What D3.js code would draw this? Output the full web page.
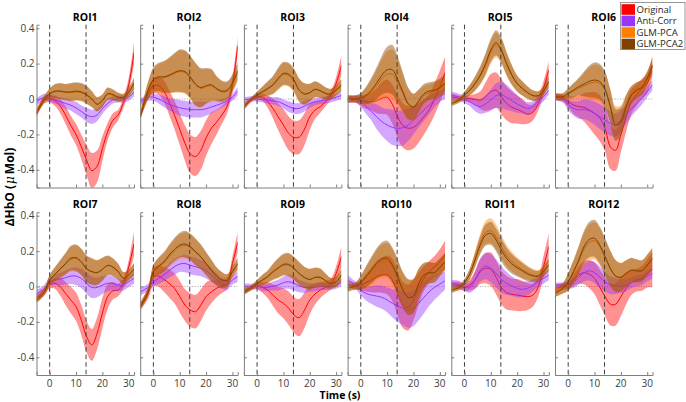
<!DOCTYPE html>
<html><head><meta charset="utf-8">
<script src="https://cdn.jsdelivr.net/npm/d3@7"></script>
<style>body{margin:0;background:#fff}svg{display:block;font-family:"Open Sans",sans-serif}</style>
</head><body><svg id="c" width="686" height="402"></svg>
<script>
const T = [-5,-2,0,2,4,6,8,10,12,14,16,18,20,22,24,26,28,30,32];
const categories = ["ROI1","ROI2","ROI3","ROI4","ROI5","ROI6","ROI7","ROI8","ROI9","ROI10","ROI11","ROI12"];
const seriesNames = ["Original","Anti-Corr","GLM-PCA","GLM-PCA2"];
const xTicks = [0,10,20,30];
const yTicks = [-0.4,-0.2,0,0.2,0.4];
const yTickLabels = ["-0.4","-0.2","0","0.2","0.4"];
const stimLines = [0,13.8];

const originalMean = [
[-0.08,-0.005,0.0,-0.01,-0.04,-0.09,-0.15,-0.2,-0.27,-0.345,-0.405,-0.38,-0.28,-0.185,-0.12,-0.09,-0.02,0.08,0.26],
[-0.1,0.03,0.075,0.075,0.045,-0.02,-0.09,-0.17,-0.25,-0.31,-0.325,-0.29,-0.22,-0.165,-0.13,-0.09,-0.04,0.08,0.3],
[-0.043,0.0,0.013,0.01,-0.015,-0.053,-0.1,-0.147,-0.194,-0.217,-0.215,-0.17,-0.1,-0.062,-0.043,-0.015,0.023,0.088,0.19],
[0.0,0.0,-0.01,-0.015,-0.015,-0.01,0.005,0.01,-0.03,-0.1,-0.15,-0.165,-0.16,-0.135,-0.1,-0.06,0.0,0.07,0.15],
[0.013,0.004,0.004,0.002,-0.002,-0.006,0.013,0.041,0.05,0.013,-0.025,-0.047,-0.058,-0.072,-0.085,-0.075,-0.025,0.06,0.164],
[0.013,0.004,-0.015,-0.034,-0.043,-0.047,-0.062,-0.081,-0.109,-0.166,-0.27,-0.29,-0.2,-0.1,-0.015,0.023,0.06,0.088,0.19],
[-0.067,-0.03,0.008,0.018,-0.001,-0.039,-0.076,-0.114,-0.19,-0.283,-0.33,-0.265,-0.15,-0.057,-0.024,-0.02,0.018,0.11,0.24],
[-0.114,-0.039,0.052,0.059,0.04,0.018,-0.01,-0.057,-0.105,-0.133,-0.142,-0.105,-0.057,-0.03,-0.01,0.003,0.018,0.13,0.25],
[-0.03,-0.005,0.003,-0.005,-0.02,-0.048,-0.076,-0.095,-0.123,-0.161,-0.176,-0.133,-0.076,-0.042,-0.02,-0.005,0.014,0.074,0.168],
[0.014,0.003,0.008,0.022,0.037,0.056,0.065,0.065,0.037,-0.039,-0.105,-0.118,-0.076,-0.01,0.046,0.084,0.112,0.14,0.18],
[0.008,0.005,-0.005,0.008,0.037,0.084,0.103,0.097,0.052,-0.005,-0.035,-0.044,-0.048,-0.054,-0.057,-0.048,-0.001,0.112,0.225],
[-0.01,0.0,0.008,0.037,0.065,0.078,0.07,0.046,-0.005,-0.057,-0.1,-0.1,-0.057,-0.01,0.022,0.037,0.046,0.074,0.095]
];
const originalErr = [
[0.02,0.02,0.02,0.03,0.04,0.05,0.055,0.06,0.07,0.085,0.1,0.09,0.07,0.05,0.04,0.03,0.03,0.04,0.06],
[0.02,0.03,0.04,0.05,0.06,0.07,0.08,0.09,0.1,0.11,0.11,0.11,0.1,0.09,0.07,0.05,0.04,0.04,0.05],
[0.02,0.015,0.015,0.02,0.035,0.055,0.075,0.09,0.095,0.095,0.095,0.09,0.075,0.05,0.035,0.025,0.025,0.035,0.06],
[0.02,0.02,0.03,0.04,0.05,0.07,0.09,0.1,0.11,0.12,0.125,0.125,0.12,0.11,0.1,0.09,0.09,0.09,0.09],
[0.02,0.015,0.015,0.02,0.03,0.05,0.08,0.1,0.1,0.1,0.095,0.09,0.08,0.07,0.055,0.045,0.04,0.04,0.05],
[0.02,0.02,0.03,0.05,0.06,0.08,0.1,0.12,0.13,0.13,0.125,0.115,0.1,0.085,0.07,0.06,0.055,0.055,0.06],
[0.02,0.02,0.02,0.03,0.05,0.065,0.075,0.08,0.085,0.09,0.09,0.09,0.085,0.07,0.05,0.035,0.03,0.04,0.07],
[0.02,0.03,0.05,0.06,0.07,0.08,0.085,0.09,0.09,0.095,0.095,0.09,0.08,0.065,0.05,0.04,0.035,0.04,0.06],
[0.02,0.015,0.02,0.03,0.045,0.06,0.075,0.085,0.095,0.1,0.105,0.1,0.08,0.06,0.045,0.035,0.03,0.04,0.06],
[0.02,0.02,0.03,0.05,0.07,0.09,0.1,0.11,0.12,0.125,0.13,0.13,0.115,0.09,0.07,0.06,0.06,0.07,0.08],
[0.02,0.02,0.02,0.03,0.05,0.07,0.085,0.095,0.095,0.095,0.095,0.09,0.09,0.085,0.075,0.065,0.055,0.06,0.075],
[0.02,0.02,0.02,0.035,0.05,0.065,0.08,0.09,0.1,0.11,0.12,0.12,0.11,0.09,0.07,0.065,0.07,0.08,0.1]
];
const antiMean = [
[-0.015,0.01,0.005,-0.005,-0.015,-0.025,-0.035,-0.05,-0.07,-0.09,-0.1,-0.09,-0.055,-0.025,-0.005,0.0,0.0,0.01,0.04],
[-0.02,0.01,0.01,0.0,-0.015,-0.03,-0.04,-0.05,-0.055,-0.06,-0.06,-0.06,-0.055,-0.045,-0.035,-0.025,-0.01,0.01,0.045],
[-0.005,0.0,0.0,-0.003,-0.006,-0.01,-0.015,-0.028,-0.043,-0.053,-0.053,-0.04,-0.025,-0.015,-0.01,-0.005,0.0,0.01,0.02],
[0.0,0.0,-0.015,-0.043,-0.07,-0.1,-0.128,-0.147,-0.16,-0.166,-0.162,-0.147,-0.119,-0.09,-0.062,-0.034,-0.006,0.013,0.032],
[0.023,0.01,-0.002,-0.015,-0.034,-0.043,-0.028,-0.006,0.019,0.023,0.01,-0.009,-0.028,-0.043,-0.053,-0.043,-0.011,0.013,0.05],
[0.013,0.0,-0.034,-0.053,-0.062,-0.058,-0.066,-0.081,-0.1,-0.119,-0.137,-0.147,-0.122,-0.09,-0.053,-0.025,0.004,0.041,0.079],
[-0.04,-0.01,0.027,0.037,0.042,0.05,0.059,0.059,0.046,0.018,-0.005,-0.005,0.008,0.018,0.018,0.008,0.008,0.027,0.046],
[-0.03,-0.005,0.027,0.046,0.065,0.09,0.112,0.127,0.13,0.12,0.112,0.103,0.09,0.065,0.04,0.018,0.008,0.037,0.056],
[0.003,0.0,0.003,-0.005,-0.005,0.003,0.008,0.022,0.027,0.018,0.003,-0.005,-0.005,-0.005,0.0,0.0,0.0,0.008,0.022],
[0.037,0.008,-0.02,-0.039,-0.048,-0.054,-0.061,-0.076,-0.095,-0.11,-0.123,-0.133,-0.123,-0.095,-0.061,-0.029,-0.005,0.014,0.033],
[0.018,0.012,-0.005,-0.005,0.037,0.093,0.116,0.103,0.074,0.04,0.018,0.003,-0.01,-0.016,-0.01,0.008,0.027,0.046,0.065],
[0.008,0.008,0.008,0.022,0.052,0.078,0.089,0.078,0.052,0.027,0.008,0.003,0.003,0.008,0.022,0.031,0.04,0.059,0.074]
];
const antiErr = [
[0.02,0.02,0.02,0.02,0.025,0.03,0.03,0.035,0.035,0.04,0.04,0.035,0.03,0.025,0.02,0.02,0.02,0.02,0.025],
[0.02,0.02,0.02,0.025,0.03,0.035,0.04,0.045,0.045,0.045,0.045,0.045,0.04,0.035,0.03,0.025,0.02,0.02,0.025],
[0.015,0.015,0.015,0.015,0.02,0.02,0.025,0.025,0.03,0.03,0.03,0.03,0.025,0.02,0.02,0.02,0.02,0.02,0.02],
[0.02,0.02,0.03,0.04,0.05,0.07,0.08,0.09,0.1,0.1,0.1,0.09,0.08,0.07,0.06,0.05,0.04,0.03,0.03],
[0.02,0.02,0.02,0.025,0.035,0.04,0.05,0.06,0.07,0.075,0.07,0.06,0.05,0.04,0.035,0.03,0.03,0.025,0.025],
[0.02,0.02,0.03,0.04,0.05,0.055,0.06,0.065,0.07,0.07,0.07,0.065,0.06,0.05,0.045,0.04,0.035,0.03,0.03],
[0.02,0.02,0.025,0.03,0.035,0.04,0.045,0.05,0.055,0.06,0.06,0.055,0.05,0.045,0.04,0.035,0.03,0.03,0.03],
[0.02,0.02,0.025,0.03,0.035,0.04,0.045,0.045,0.05,0.05,0.05,0.045,0.045,0.04,0.035,0.03,0.025,0.025,0.03],
[0.015,0.015,0.015,0.02,0.02,0.025,0.03,0.035,0.04,0.04,0.035,0.03,0.025,0.02,0.02,0.02,0.02,0.02,0.02],
[0.03,0.02,0.03,0.04,0.05,0.06,0.065,0.07,0.08,0.09,0.095,0.1,0.1,0.095,0.09,0.08,0.07,0.06,0.05],
[0.02,0.02,0.02,0.03,0.05,0.065,0.075,0.08,0.08,0.075,0.065,0.055,0.05,0.045,0.04,0.035,0.03,0.03,0.03],
[0.015,0.015,0.02,0.03,0.04,0.05,0.055,0.06,0.06,0.055,0.05,0.045,0.04,0.035,0.03,0.03,0.03,0.03,0.03]
];
const pcaMean = [
[-0.075,0.0,0.028,0.04,0.042,0.038,0.036,0.04,0.036,0.022,-0.002,-0.028,-0.008,0.028,0.022,0.01,0.01,0.036,0.085],
[-0.095,0.045,0.1,0.115,0.12,0.13,0.145,0.155,0.15,0.12,0.08,0.06,0.07,0.075,0.055,0.04,0.045,0.085,0.15],
[-0.04,0.0,0.02,0.038,0.056,0.076,0.11,0.138,0.135,0.103,0.05,0.03,0.037,0.053,0.045,0.03,0.027,0.048,0.078],
[0.0,0.0,0.003,0.015,0.04,0.075,0.115,0.14,0.14,0.095,0.03,-0.03,-0.045,-0.015,0.02,0.035,0.045,0.06,0.085],
[-0.022,-0.005,0.022,0.048,0.085,0.13,0.19,0.265,0.305,0.27,0.195,0.133,0.086,0.058,0.035,0.02,0.02,0.045,0.095],
[0.013,0.012,0.028,0.045,0.062,0.075,0.088,0.095,0.088,0.05,-0.04,-0.13,-0.115,-0.04,0.022,0.05,0.07,0.115,0.185],
[-0.07,-0.028,0.035,0.067,0.096,0.125,0.153,0.158,0.137,0.1,0.086,0.08,0.098,0.118,0.108,0.083,0.047,0.064,0.097],
[-0.11,-0.028,0.08,0.11,0.133,0.17,0.2,0.225,0.232,0.22,0.192,0.165,0.127,0.09,0.057,0.036,0.034,0.08,0.125],
[-0.028,-0.005,0.017,0.035,0.053,0.08,0.1,0.12,0.12,0.1,0.072,0.05,0.04,0.05,0.05,0.032,0.018,0.027,0.063],
[-0.008,0.003,0.02,0.05,0.085,0.12,0.142,0.146,0.112,0.05,-0.02,-0.058,-0.05,0.015,0.06,0.075,0.08,0.11,0.145],
[-0.02,-0.005,0.022,0.072,0.155,0.245,0.305,0.315,0.28,0.225,0.175,0.14,0.115,0.095,0.078,0.065,0.062,0.085,0.125],
[-0.038,-0.01,0.025,0.08,0.142,0.212,0.25,0.258,0.225,0.165,0.102,0.06,0.054,0.074,0.09,0.087,0.087,0.118,0.155]
];
const pcaErr = [
[0.02,0.02,0.03,0.04,0.045,0.045,0.05,0.05,0.05,0.05,0.045,0.04,0.035,0.035,0.03,0.025,0.02,0.025,0.03],
[0.02,0.05,0.07,0.08,0.09,0.1,0.11,0.12,0.12,0.12,0.12,0.11,0.1,0.09,0.07,0.06,0.05,0.05,0.05],
[0.015,0.01,0.02,0.03,0.04,0.05,0.06,0.065,0.065,0.065,0.065,0.06,0.05,0.045,0.04,0.035,0.03,0.03,0.035],
[0.02,0.02,0.03,0.05,0.07,0.09,0.11,0.13,0.14,0.13,0.11,0.09,0.075,0.065,0.055,0.05,0.05,0.05,0.05],
[0.015,0.015,0.02,0.03,0.04,0.05,0.06,0.065,0.07,0.07,0.065,0.055,0.045,0.04,0.035,0.03,0.025,0.025,0.03],
[0.02,0.02,0.03,0.04,0.05,0.07,0.09,0.1,0.1,0.1,0.095,0.09,0.08,0.065,0.05,0.045,0.04,0.04,0.045],
[0.02,0.02,0.03,0.04,0.05,0.06,0.07,0.075,0.075,0.075,0.075,0.07,0.065,0.055,0.05,0.045,0.035,0.03,0.035],
[0.02,0.025,0.04,0.05,0.055,0.06,0.065,0.07,0.075,0.075,0.075,0.07,0.065,0.06,0.05,0.045,0.035,0.03,0.035],
[0.015,0.015,0.02,0.03,0.035,0.045,0.055,0.06,0.065,0.065,0.065,0.06,0.06,0.055,0.05,0.04,0.03,0.03,0.035],
[0.02,0.02,0.04,0.06,0.075,0.085,0.095,0.1,0.1,0.1,0.1,0.1,0.095,0.085,0.07,0.06,0.055,0.05,0.05],
[0.015,0.015,0.02,0.03,0.045,0.055,0.065,0.07,0.07,0.065,0.06,0.055,0.05,0.045,0.04,0.035,0.03,0.03,0.035],
[0.02,0.03,0.05,0.065,0.08,0.09,0.1,0.105,0.105,0.105,0.1,0.09,0.08,0.075,0.07,0.065,0.06,0.06,0.06]
];
const pca2Mean = [
[-0.08,0.0,0.03,0.045,0.045,0.04,0.04,0.045,0.04,0.025,0.0,-0.03,-0.01,0.03,0.025,0.01,0.01,0.04,0.09],
[-0.1,0.05,0.11,0.125,0.125,0.135,0.15,0.16,0.155,0.125,0.085,0.065,0.075,0.08,0.06,0.045,0.05,0.09,0.16],
[-0.043,0.0,0.023,0.041,0.06,0.08,0.117,0.145,0.14,0.107,0.05,0.028,0.036,0.055,0.047,0.032,0.028,0.05,0.08],
[0.0,0.0,0.005,0.02,0.05,0.09,0.135,0.165,0.165,0.11,0.04,-0.025,-0.045,-0.01,0.03,0.045,0.05,0.065,0.09],
[-0.025,-0.006,0.023,0.05,0.088,0.136,0.2,0.277,0.318,0.277,0.2,0.136,0.088,0.06,0.036,0.019,0.019,0.047,0.098],
[0.013,0.013,0.032,0.05,0.07,0.085,0.1,0.107,0.098,0.055,-0.043,-0.147,-0.128,-0.043,0.023,0.05,0.066,0.117,0.19],
[-0.076,-0.03,0.037,0.07,0.1,0.13,0.16,0.163,0.14,0.1,0.084,0.078,0.097,0.12,0.11,0.084,0.046,0.065,0.1],
[-0.114,-0.03,0.084,0.116,0.14,0.178,0.21,0.234,0.24,0.225,0.197,0.169,0.13,0.093,0.059,0.037,0.035,0.084,0.13],
[-0.03,-0.005,0.018,0.037,0.056,0.084,0.106,0.125,0.125,0.103,0.074,0.052,0.04,0.052,0.052,0.033,0.018,0.027,0.065],
[-0.01,0.003,0.022,0.056,0.093,0.131,0.155,0.159,0.121,0.056,-0.02,-0.061,-0.054,0.018,0.065,0.078,0.078,0.108,0.14],
[-0.02,-0.005,0.022,0.07,0.15,0.234,0.29,0.3,0.263,0.206,0.159,0.127,0.106,0.088,0.07,0.059,0.059,0.084,0.121],
[-0.04,-0.01,0.027,0.084,0.15,0.225,0.266,0.272,0.234,0.169,0.103,0.059,0.052,0.074,0.093,0.089,0.089,0.121,0.159]
];
const pca2Err = [
[0.02,0.02,0.03,0.04,0.045,0.045,0.05,0.05,0.05,0.05,0.045,0.04,0.035,0.035,0.03,0.025,0.02,0.025,0.03],
[0.02,0.05,0.07,0.08,0.09,0.1,0.11,0.12,0.12,0.12,0.12,0.11,0.1,0.09,0.07,0.06,0.05,0.05,0.05],
[0.015,0.01,0.02,0.03,0.04,0.05,0.06,0.065,0.065,0.065,0.065,0.06,0.05,0.045,0.04,0.035,0.03,0.03,0.035],
[0.02,0.02,0.03,0.05,0.07,0.09,0.11,0.13,0.14,0.13,0.11,0.09,0.075,0.065,0.055,0.05,0.05,0.05,0.05],
[0.015,0.015,0.02,0.03,0.04,0.05,0.06,0.065,0.07,0.07,0.065,0.055,0.045,0.04,0.035,0.03,0.025,0.025,0.03],
[0.02,0.02,0.03,0.04,0.05,0.07,0.09,0.1,0.1,0.1,0.095,0.09,0.08,0.065,0.05,0.045,0.04,0.04,0.045],
[0.02,0.02,0.03,0.04,0.05,0.06,0.07,0.075,0.075,0.075,0.075,0.07,0.065,0.055,0.05,0.045,0.035,0.03,0.035],
[0.02,0.025,0.04,0.05,0.055,0.06,0.065,0.07,0.075,0.075,0.075,0.07,0.065,0.06,0.05,0.045,0.035,0.03,0.035],
[0.015,0.015,0.02,0.03,0.035,0.045,0.055,0.06,0.065,0.065,0.065,0.06,0.06,0.055,0.05,0.04,0.03,0.03,0.035],
[0.02,0.02,0.04,0.06,0.075,0.085,0.095,0.1,0.1,0.1,0.1,0.1,0.095,0.085,0.07,0.06,0.055,0.05,0.05],
[0.015,0.015,0.02,0.03,0.04,0.05,0.06,0.065,0.065,0.065,0.06,0.055,0.05,0.045,0.04,0.035,0.03,0.03,0.035],
[0.02,0.03,0.05,0.065,0.08,0.09,0.1,0.105,0.105,0.105,0.1,0.09,0.08,0.075,0.07,0.065,0.06,0.06,0.06]
];
const colors = ["#ff0000","#9933ff","#ff8000","#804000"];

const svg = d3.select("#c");
const FONT = '"Open Sans",sans-serif';
const panelW = 97.5, step = 103.7, left0 = 36.5;
const rowTop = [24.7, 212.2], plotH = 162.8;
const means = [originalMean, antiMean, pcaMean, pca2Mean];
const errs = [originalErr, antiErr, pcaErr, pca2Err];
const defs = svg.append("defs");

categories.forEach((name, k) => {
  const col = k % 6, row = Math.floor(k / 6);
  const x0 = left0 + col * step, y0 = rowTop[row];
  const x = d3.scaleLinear().domain([-5, 32]).range([x0, x0 + panelW]);
  const y = d3.scaleLinear().domain([-0.5, 0.42]).range([y0 + plotH, y0]);
  const g = svg.append("g");
  const cid = "clip" + k;
  defs.append("clipPath").attr("id", cid).append("rect")
    .attr("x", x0).attr("y", y0).attr("width", panelW).attr("height", plotH);
  const pg = g.append("g").attr("clip-path", `url(#${cid})`);
  pg.append("line").attr("x1", x0).attr("x2", x0 + panelW).attr("y1", y(0)).attr("y2", y(0))
    .attr("stroke", "#8a8a8a").attr("stroke-width", 0.8).attr("stroke-dasharray", "1,1.6");
  means.forEach((M, s) => {
    const data = T.map((t, i) => ({t, m: M[k][i], e: errs[s][k][i]}));
    const area = d3.area().curve(d3.curveCatmullRom.alpha(0.5))
      .x(d => x(d.t)).y0(d => y(d.m - d.e)).y1(d => y(d.m + d.e));
    pg.append("path").attr("d", area(data)).attr("fill", colors[s]).attr("fill-opacity", 0.43);
    const line = d3.line().curve(d3.curveCatmullRom.alpha(0.5)).x(d => x(d.t)).y(d => y(d.m));
    pg.append("path").attr("d", line(data)).attr("fill", "none").attr("stroke", colors[s]).attr("stroke-width", 1);
  });
  stimLines.forEach(s => {
    g.append("line").attr("x1", x(s)).attr("x2", x(s)).attr("y1", y0).attr("y2", y0 + plotH)
      .attr("stroke", "#404040").attr("stroke-width", 1).attr("stroke-dasharray", "4.5,3");
  });
  const yAx = g.append("g").attr("transform", `translate(${x0},0)`)
    .call(d3.axisRight(y).tickValues(yTicks).tickSize(3).tickFormat(""));
  const xAx = g.append("g").attr("transform", `translate(0,${y0 + plotH})`)
    .call(d3.axisTop(x).tickValues(xTicks).tickSize(3).tickFormat(""));
  [yAx, xAx].forEach(a => {
    a.select(".domain").attr("stroke", "#7f7f7f").attr("stroke-width", 1);
    a.selectAll(".tick line").attr("stroke", "#7f7f7f");
  });
  if (col === 0) {
    yTicks.forEach((v, i) => {
      g.append("text").attr("x", x0 - 2).attr("y", y(v)).attr("dy", "0.35em")
        .attr("text-anchor", "end").attr("font-family", FONT).attr("font-size", 10)
        .attr("fill", "#404040").text(yTickLabels[i]);
    });
  }
  if (row === 1) {
    xTicks.forEach(v => {
      g.append("text").attr("x", x(v)).attr("y", y0 + plotH + 11.5).attr("text-anchor", "middle")
        .attr("font-family", FONT).attr("font-size", 10).attr("fill", "#404040").text(v);
    });
  }
  g.append("text").attr("x", x0 + panelW / 2).attr("y", y0 - 4).attr("text-anchor", "middle")
    .attr("font-family", FONT).attr("font-size", 10.5).attr("font-weight", "bold").attr("fill", "#000").text(name);
});

svg.append("text").attr("x", 340).attr("y", 399).attr("text-anchor", "middle")
  .attr("font-family", FONT).attr("font-size", 10.5).attr("font-weight", "bold").text("Time (s)");
const yl = svg.append("text").attr("transform", "translate(14,187) rotate(-90)").attr("text-anchor", "middle")
  .attr("font-family", FONT).attr("font-size", 12).attr("font-weight", "bold");
yl.append("tspan").text("\u0394HbO (");
yl.append("tspan").attr("font-style", "italic").attr("font-weight", "normal").attr("font-family", "DejaVu Serif").attr("dx", 1).text("\u03bc");
yl.append("tspan").attr("dx", 2).text("Mol)");

const lg = svg.append("g");
lg.append("rect").attr("x", 620.5).attr("y", 2.5).attr("width", 64.5).attr("height", 47)
  .attr("fill", "#fff").attr("stroke", "#808080").attr("stroke-width", 0.8);
seriesNames.forEach((n, i) => {
  const cy = 9.5 + i * 11.5;
  lg.append("rect").attr("x", 621.5).attr("y", cy - 5.3).attr("width", 13.5).attr("height", 10.6).attr("fill", colors[i]);
  lg.append("text").attr("x", 636.5).attr("y", cy).attr("dy", "0.35em").attr("font-family", FONT)
    .attr("font-size", 9.5).attr("fill", "#262626").text(n);
});
</script></body></html>
